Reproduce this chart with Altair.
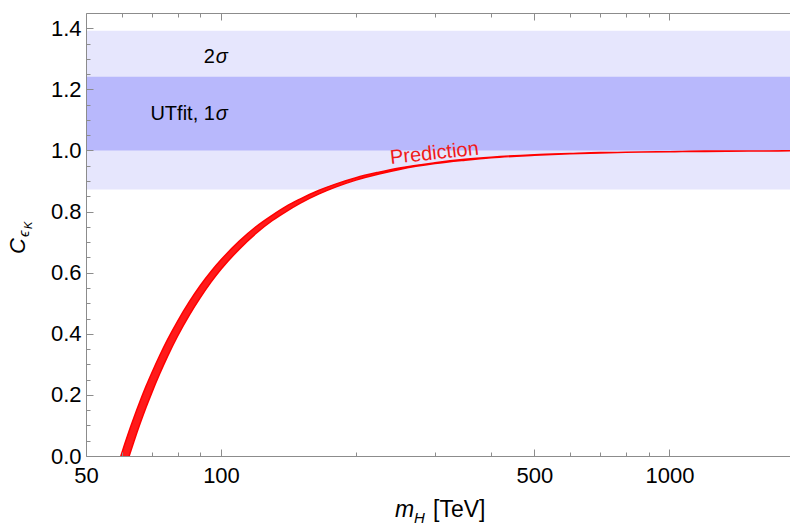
import altair as alt
import pandas as pd

# ---------------- data ----------------
# prediction band: heavy Higgs mass m_H [TeV] vs C_eps_K (upper / lower edge)
m_vals = [59.8, 61, 62.4, 64, 66, 68, 70, 73, 76, 80, 85, 90, 95, 100, 110, 120,
          130, 140, 150, 165, 180, 200, 225, 250, 300, 350, 400, 500, 600, 700,
          800, 1000, 1200, 1500, 1857]
c_upper = [0.000, 0.039, 0.082, 0.127, 0.179, 0.227, 0.270, 0.329, 0.381, 0.441,
           0.505, 0.559, 0.604, 0.642, 0.704, 0.752, 0.788, 0.818, 0.841, 0.869,
           0.890, 0.911, 0.929, 0.943, 0.960, 0.971, 0.978, 0.986, 0.990, 0.993,
           0.994, 0.996, 0.998, 0.998, 0.999]
c_lower = [-0.089, -0.046, 0.000, 0.049, 0.106, 0.158, 0.205, 0.269, 0.326, 0.392,
           0.461, 0.519, 0.569, 0.611, 0.678, 0.730, 0.770, 0.801, 0.827, 0.857,
           0.880, 0.903, 0.923, 0.938, 0.957, 0.968, 0.976, 0.984, 0.989, 0.992,
           0.994, 0.996, 0.997, 0.998, 0.999]

# UTfit bands
band_names = ["2σ", "UTfit 1σ"]
band_low = [0.872, 1.0]
band_high = [1.392, 1.241]
band_colors = ["#e6e6fd", "#b8b8fc"]

x_min, x_max = 50, 1857
y_min, y_max = 0.0, 1.45

x_major = [50, 100, 500, 1000]
x_minor = [60, 70, 80, 90, 200, 300, 400, 600, 700, 800, 900]
y_major = [0.0, 0.2, 0.4, 0.6, 0.8, 1.0, 1.2, 1.4]
y_minor = [0.05, 0.1, 0.15, 0.25, 0.3, 0.35, 0.45, 0.5, 0.55, 0.65, 0.7, 0.75,
           0.85, 0.9, 0.95, 1.05, 1.1, 1.15, 1.25, 1.3, 1.35]

# in-plot labels
lab_x = [96.9, 96.9]
lab_y = [1.287, 1.10]
lab_left = ["2", "UTfit, 1"]
lab_right = ["σ", "σ"]
pred_x, pred_y, pred_text = [300], [0.971], ["Prediction"]

# ---------------- chart ----------------
W, H = 704, 443
FONT = "Liberation Sans"
GRAY = "#8c8c8c"

xs = alt.Scale(type="log", domain=[x_min, x_max], nice=False)
ys = alt.Scale(domain=[y_min, y_max], nice=False, zero=False)


def tick_axis(orient, offset, values, size, domain=False):
    return alt.Axis(orient=orient, offset=offset, values=values, tickSize=size,
                    labels=False, domain=domain, domainColor=GRAY, domainWidth=1,
                    tickColor=GRAY, tickWidth=1, grid=False, title=None, zindex=1)


bands_df = pd.DataFrame({"name": band_names, "lo": band_low, "hi": band_high,
                         "x1": [x_min] * 2, "x2": [x_max] * 2})
bands = alt.Chart(bands_df).mark_rect().encode(
    x=alt.X("x1:Q", scale=xs, axis=alt.Axis(
        values=x_major, format="d", ticks=False, labelFontSize=22, labelFont=FONT,
        labelColor="black", labelPadding=9, labelFlush=False, labelOverlap=False,
        domainColor=GRAY, domainWidth=1, grid=False, title=None, zindex=1)),
    x2="x2:Q",
    y=alt.Y("lo:Q", scale=ys, axis=alt.Axis(
        values=y_major, format=".1f", ticks=False, labelFontSize=22, labelFont=FONT,
        labelColor="black", labelPadding=5, labelFlush=False, labelOverlap=False,
        domainColor=GRAY, domainWidth=1, grid=False, title=None, zindex=1)),
    y2="hi:Q",
    color=alt.Color("name:N", scale=alt.Scale(domain=band_names, range=band_colors),
                    legend=None),
)

curve_df = pd.DataFrame({"m": m_vals, "hi": c_upper, "lo": c_lower})
curve = alt.Chart(curve_df).mark_area(
    color="#ff1a1a", stroke="#ff0000", strokeWidth=1.5, clip=True,
    interpolate="monotone", opacity=1).encode(
    x=alt.X("m:Q", scale=xs, axis=tick_axis("top", -H, x_major, 7)),
    y=alt.Y("lo:Q", scale=ys, axis=tick_axis("right", -W, y_major, 7)),
    y2="hi:Q",
)

lab_df = pd.DataFrame({"x": lab_x, "y": lab_y, "a": lab_left, "b": lab_right})
labels_a = alt.Chart(lab_df).mark_text(
    align="right", baseline="alphabetic", fontSize=20, font=FONT, color="black").encode(
    x=alt.X("x:Q", scale=xs, axis=tick_axis("top", -H, x_minor, 4)),
    y=alt.Y("y:Q", scale=ys, axis=tick_axis("right", -W, y_minor, 4)),
    text="a:N",
)
labels_b = alt.Chart(lab_df).mark_text(
    align="left", baseline="alphabetic", fontSize=20, font=FONT, fontStyle="italic",
    color="black", dx=1).encode(
    x=alt.X("x:Q", scale=xs, axis=tick_axis("bottom", -H, x_major, 7, domain=True)),
    y=alt.Y("y:Q", scale=ys, axis=None),
    text="b:N",
)

pred_df = pd.DataFrame({"x": pred_x, "y": pred_y, "t": pred_text})
pred = alt.Chart(pred_df).mark_text(
    align="center", baseline="alphabetic", fontSize=20, font=FONT, color="#f01a1a",
    angle=354).encode(
    x=alt.X("x:Q", scale=xs, axis=tick_axis("bottom", -H, x_minor, 4)),
    y=alt.Y("y:Q", scale=ys, axis=None),
    text="t:N",
)


def title_piece(text, px, py, size, italic=False, angle=0):
    props = dict(align="left", baseline="alphabetic", fontSize=size, font=FONT,
                 color="black")
    if italic:
        props["fontStyle"] = "italic"
    if angle:
        props["angle"] = angle
    return alt.Chart(pd.DataFrame({"t": [text]})).mark_text(**props).encode(
        x=alt.value(px), y=alt.value(py), text="t:N")


titles = [
    title_piece("m", 309, 504, 23, italic=True),
    title_piece("H", 328, 510, 15, italic=True),
    title_piece("[TeV]", 347, 504, 23),
    title_piece("C", -61, 241, 22, italic=True, angle=270),
    title_piece("ϵ", -57, 224, 15, italic=True, angle=270),
    title_piece("K", -54, 216, 11, italic=True, angle=270),
]

chart = alt.layer(bands, curve, labels_a, labels_b, pred, *titles).resolve_axis(
    x="independent", y="independent"
).properties(
    width=W, height=H,
    autosize=alt.AutoSizeParams(type="none"),
    padding={"left": 86, "top": 13, "right": 0, "bottom": 71},
    background="white",
).configure_view(stroke=None)

chart.save("out.html", embed_options={"renderer": "svg", "actions": False})
